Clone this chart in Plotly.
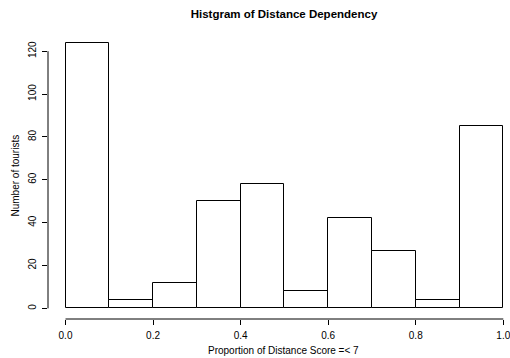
import plotly.graph_objects as go

breaks = [0.0, 0.1, 0.2, 0.3, 0.4, 0.5, 0.6, 0.7, 0.8, 0.9, 1.0]
counts = [124, 4, 12, 50, 58, 8, 42, 27, 4, 85]
x_ticks = [0.0, 0.2, 0.4, 0.6, 0.8, 1.0]
x_tick_labels = ["0.0", "0.2", "0.4", "0.6", "0.8", "1.0"]
y_ticks = [0, 20, 40, 60, 80, 100, 120]
y_tick_labels = ["0", "20", "40", "60", "80", "100", "120"]

mids = [(a + b) / 2 for a, b in zip(breaks[:-1], breaks[1:])]
widths = [b - a for a, b in zip(breaks[:-1], breaks[1:])]

FONT = "Liberation Sans, Arial, Helvetica, sans-serif"

fig = go.Figure(go.Bar(
    x=mids, y=counts, width=widths,
    marker=dict(color="white", line=dict(color="black", width=1)),
    hoverinfo="x+y",
))

W, H = 510, 358
left, right, top, bottom = 48, 0, 32, 39

fig.update_layout(
    width=W, height=H,
    margin=dict(l=left, r=right, t=top, b=bottom, pad=0),
    paper_bgcolor="white", plot_bgcolor="white",
    showlegend=False,
    font=dict(family=FONT, size=10, color="black"),
    title=dict(text="<b>Histgram of Distance Dependency</b>",
               x=284 / W, xref="container", xanchor="center",
               y=1 - 14 / H, yref="container", yanchor="middle",
               font=dict(size=11.5, family=FONT, color="black")),
    bargap=0,
)

fig.update_xaxes(
    range=[-0.04, 1.0153], showgrid=False, zeroline=False, showline=False,
    tickmode="array", tickvals=x_ticks, ticktext=x_tick_labels,
    ticks="outside", ticklen=5, tickcolor="black", tickwidth=1,
    tickfont=dict(size=10, family=FONT), automargin=False,
    ticklabeloverflow="allow", ticklabelstandoff=2,
)
fig.update_yaxes(
    range=[-4.96, 128.96], showgrid=False, zeroline=False, showline=False,
    tickmode="array", tickvals=y_ticks, ticktext=y_tick_labels,
    ticks="outside", ticklen=5, tickcolor="black", tickwidth=1,
    tickangle=-90, tickfont=dict(size=10, family=FONT), automargin=False,
    ticklabeloverflow="allow", ticklabelstandoff=2,
)

# R-style detached axis lines spanning the tick range
fig.add_shape(type="line", xref="x", yref="paper",
              x0=x_ticks[0], x1=x_ticks[-1], y0=0, y1=0,
              line=dict(color="black", width=1))
fig.add_shape(type="line", xref="paper", yref="y",
              x0=0, x1=0, y0=y_ticks[0], y1=y_ticks[-1],
              line=dict(color="black", width=1))

fig.add_annotation(text="Proportion of Distance Score =< 7",
                   xref="paper", yref="paper",
                   x=(283.5 - left) / (W - left - right), y=-(350.5 - (H - bottom)) / (H - top - bottom),
                   xanchor="center", yanchor="middle", showarrow=False,
                   font=dict(size=10, family=FONT))
fig.add_annotation(text="Number of tourists",
                   xref="paper", yref="paper",
                   x=-(left - 15) / (W - left - right), y=(H - bottom - 175.5) / (H - top - bottom),
                   xanchor="center", yanchor="middle", showarrow=False, textangle=-90,
                   font=dict(size=10, family=FONT))

fig.write_html("out.html", config={"displayModeBar": False},
               post_script="document.body.style.margin='0';")
